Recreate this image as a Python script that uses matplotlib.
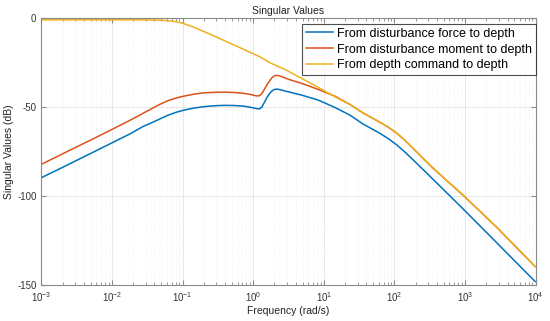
import numpy as np
import matplotlib
matplotlib.use("Agg")
import matplotlib.pyplot as plt
from matplotlib.ticker import LogLocator, NullFormatter, FixedLocator

plt.rcParams['font.family'] = ['Liberation Sans', 'DejaVu Sans']
plt.rcParams['mathtext.fontset'] = 'custom'
plt.rcParams['mathtext.rm'] = 'Liberation Sans'

# log10 of frequency (rad/s) and singular values (dB)
blue_logf = [-3.000, -2.689, -2.216, -1.745, -1.557, -1.463, -1.321, -1.204, -1.085,
             -0.992, -0.850, -0.732, -0.614, -0.496, -0.378, -0.260, -0.143, -0.048,
             0.047, 0.087, 0.122, 0.164, 0.199, 0.235, 0.270, 0.306, 0.348, 0.400,
             0.517, 0.683, 0.918, 1.154, 1.366, 1.554, 1.790, 1.910, 2.027, 2.143,
             2.260, 2.498, 2.734, 2.969, 3.441, 3.993]
blue_db = [-89.8, -83.8, -74.5, -65.2, -61.0, -59.4, -56.8, -54.7, -53.0,
           -52.0, -50.8, -50.1, -49.6, -49.3, -49.2, -49.3, -49.6, -50.2,
           -51.0, -51.2, -50.2, -47.1, -44.5, -42.4, -40.9, -40.2, -40.1, -40.6,
           -41.8, -43.4, -46.2, -50.3, -54.6, -59.6, -64.8, -67.8, -71.2, -75.2,
           -79.6, -88.8, -98.0, -107.2, -126.0, -148.1]

orange_logf = [-3.000, -2.689, -2.216, -1.745, -1.557, -1.463, -1.321, -1.204, -1.085,
               -0.992, -0.850, -0.732, -0.614, -0.496, -0.378, -0.260, -0.143, -0.048,
               0.047, 0.087, 0.122, 0.164, 0.199, 0.235, 0.270, 0.306, 0.348, 0.400,
               0.517, 0.683, 0.918, 1.154, 1.366, 1.554, 1.790, 1.910, 2.027, 2.143,
               2.260, 2.498, 2.734, 2.969, 3.441, 3.993]
orange_db = [-82.3, -76.2, -67.0, -57.6, -53.6, -51.6, -48.6, -46.5, -45.0,
             -44.1, -43.0, -42.3, -42.0, -41.8, -41.8, -42.0, -42.4, -43.0,
             -43.9, -43.8, -42.6, -39.8, -37.5, -35.3, -33.5, -32.5, -32.4, -33.0,
             -34.8, -36.8, -40.2, -44.0, -48.6, -53.4, -58.6, -61.4, -64.6, -68.6,
             -73.2, -82.6, -91.2, -99.5, -117.3, -139.7]

yellow_logf = [-3.000, -2.500, -2.000, -1.557, -1.321, -1.204, -1.085, -0.992, -0.850,
               -0.732, -0.614, -0.496, -0.378, -0.260, -0.143, -0.024, 0.093, 0.188,
               0.235, 0.306, 0.447, 0.683, 0.918, 1.154, 1.366, 1.554, 1.790, 1.910,
               2.027, 2.143, 2.260, 2.498, 2.734, 2.969, 3.441, 3.993]
yellow_db = [-1.2, -1.2, -1.2, -1.2, -1.4, -1.7, -2.3, -3.2, -5.2,
             -7.2, -9.2, -11.3, -13.4, -15.5, -17.6, -19.8, -21.9, -24.1,
             -25.2, -26.5, -29.0, -34.0, -39.0, -44.3, -48.6, -53.4, -58.6, -61.4,
             -64.6, -68.6, -73.2, -82.6, -91.2, -99.5, -117.3, -139.7]

labels = ["From disturbance force to depth",
          "From disturbance moment to depth",
          "From depth command to depth"]
colors = ["#0072BD", "#D95319", "#EDB120"]

fig = plt.figure(figsize=(5.5, 3.21), dpi=100)
ax = fig.add_axes([41.3/550, 1-285/321, (535.7-41.3)/550, (285-17.7)/321])

for lf, db, lab, c in zip([blue_logf, orange_logf, yellow_logf],
                          [blue_db, orange_db, yellow_db], labels, colors):
    ax.plot(10**np.array(lf), db, color=c, lw=1.1, label=lab,
            solid_joinstyle='round')

ax.set_xscale('log')
ax.set_xlim(1e-3, 1e4)
ax.set_ylim(-150, 0)
ax.yaxis.set_major_locator(FixedLocator([-150, -100, -50, 0]))
ax.set_yticklabels(['-150', '-100', '-50', '0'])
ax.xaxis.set_major_locator(LogLocator(base=10, numticks=20))
ax.xaxis.set_minor_locator(LogLocator(base=10, subs=np.arange(2, 10), numticks=20))
ax.xaxis.set_minor_formatter(NullFormatter())

ax.grid(True, which='major', color='#e3e3e3', lw=0.6)
ax.grid(True, which='minor', axis='x', color='#ececec', lw=0.5, ls=':')
ax.set_axisbelow(True)

for s in ax.spines.values():
    s.set_color('#8a8a8a')
    s.set_linewidth(0.8)
ax.tick_params(which='both', direction='in', top=True, right=True, colors='#8a8a8a',
               labelcolor='#333333', labelsize=7)
ax.tick_params(which='major', length=3.5)
ax.tick_params(which='minor', length=2)

ax.set_title('Singular Values', fontsize=7.5, color='#222222', pad=3)
ax.set_xlabel('Frequency (rad/s)', fontsize=7.5, color='#222222', labelpad=2)
ax.set_ylabel('Singular Values (dB)', fontsize=7.5, color='#222222', labelpad=2)

leg = ax.legend(loc='upper right', bbox_to_anchor=(535.5/550, 1-24/321),
                bbox_transform=fig.transFigure, fontsize=9, frameon=True,
                fancybox=False, edgecolor='#222222', borderaxespad=0.0,
                handlelength=2.2, handletextpad=0.3, labelspacing=0.3,
                borderpad=0.3)
leg.get_frame().set_linewidth(0.8)

fig.savefig('out.png', dpi=100)
